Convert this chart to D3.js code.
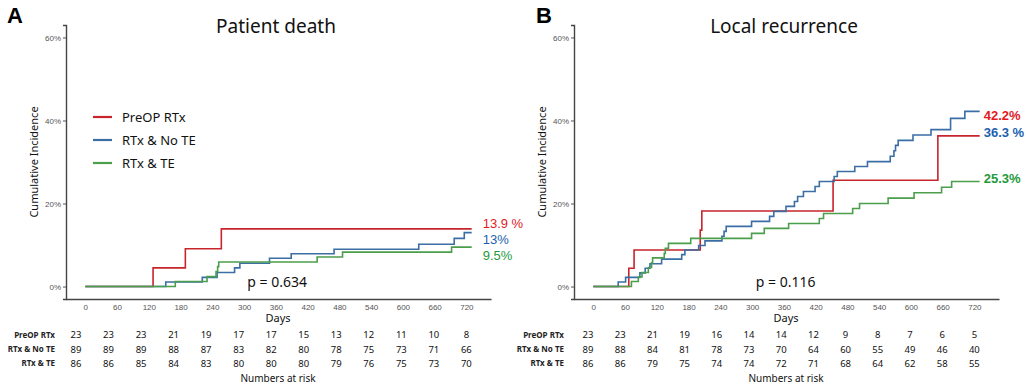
<!DOCTYPE html>
<html>
<head>
<meta charset="utf-8">
<script src="https://cdn.jsdelivr.net/npm/d3@7"></script>
<style>
  body { margin: 0; background: #fff; }
  svg { display: block; font-family: "Noto Sans", "DejaVu Sans", sans-serif; }
</style>
</head>
<body>
<div id="chart"></div>
<script>
// ---- data ----
const groups = ["PreOP RTx", "RTx & No TE", "RTx & TE"];
const dayTicks = [0, 60, 120, 180, 240, 300, 360, 420, 480, 540, 600, 660, 720];
const pctTicks = [0, 20, 40, 60];

// [day, cumulative incidence %]
const deathPreop = [[0, 0], [128, 4.5], [189, 9.1], [257, 13.9], [730, 13.9]];
const deathNoTE = [[0, 0], [152, 1.1], [221, 2.2], [249, 3.4], [282, 4.5], [292, 5.6], [348, 6.8],
  [389, 7.9], [470, 9.0], [630, 10.2], [697, 11.6], [716, 13.0], [730, 13.0]];
const deathTE = [[0, 0], [170, 1.2], [230, 2.4], [247, 3.6], [250, 4.8], [252, 5.9], [438, 7.1],
  [486, 8.3], [692, 9.5], [730, 9.5]];

const recurPreop = [[0, 0], [67, 4.4], [77, 8.8], [202, 13.6], [205, 18.2], [453, 25.6], [651, 36.3], [730, 36.3]];
const recurNoTE = [[0, 0], [47, 1.1], [61, 2.2], [88, 3.3], [98, 4.4], [107, 5.5], [129, 6.6], [167, 7.7],
  [173, 8.8], [199, 9.9], [211, 11.0], [243, 12.1], [247, 13.3], [251, 14.5], [299, 15.7], [333, 16.9],
  [341, 18.1], [364, 19.3], [380, 20.5], [386, 21.7], [397, 22.9], [419, 24.1], [427, 25.3], [455, 26.5],
  [461, 27.7], [494, 28.9], [518, 30.1], [561, 31.4], [568, 32.7], [571, 34.0], [576, 35.2], [604, 36.5],
  [638, 37.8], [675, 40.5], [702, 42.2], [730, 42.2]];
const recurTE = [[0, 0], [72, 1.2], [85, 2.3], [92, 3.4], [104, 4.6], [110, 5.7], [112, 6.9], [134, 8.0],
  [136, 9.2], [142, 10.4], [184, 11.6], [299, 12.8], [323, 14.0], [369, 15.2], [427, 16.4], [435, 17.6],
  [490, 18.8], [503, 20.0], [557, 21.3], [606, 22.6], [658, 23.9], [677, 25.3], [730, 25.3]];

const deathLabels = ["13.9 %", "13%", "9.5%"];
const deathLabelPct = [15.2, 11.4, 7.6];
const recurLabels = ["42.2%", "36.3 %", "25.3%"];
const recurLabelPct = [41.3, 37.2, 26.1];

const deathRisk = [
  [23, 23, 23, 21, 19, 17, 17, 15, 13, 12, 11, 10, 8],
  [89, 89, 89, 88, 87, 83, 82, 80, 78, 75, 73, 71, 66],
  [86, 86, 85, 84, 83, 80, 80, 80, 79, 76, 75, 73, 70]
];
const recurRisk = [
  [23, 23, 21, 19, 16, 14, 14, 12, 9, 8, 7, 6, 5],
  [89, 88, 84, 81, 78, 73, 70, 64, 60, 55, 49, 46, 40],
  [86, 86, 79, 75, 74, 74, 72, 71, 68, 64, 62, 58, 55]
];

const lineColors = ["#c8242b", "#3a6ea5", "#4b9e4b"];
const textColors = ["#e3191f", "#1c5fb0", "#1f9a3c"];

// ---- drawing ----
const W = 1026, H = 387;
const svg = d3.select("#chart").append("svg")
  .attr("width", W).attr("height", H);
svg.append("rect").attr("width", W).attr("height", H).attr("fill", "#fff");

function drawPanel(p) {
  const g = svg.append("g");
  const x = d3.scaleLinear().domain([-36.5, 766.5]).range([p.left, p.left + 425]);
  const y = d3.scaleLinear().domain([-3, 63]).range([299, 25]);

  // panel letter + title
  g.append("text").attr("x", p.letterX).attr("y", 23)
    .attr("font-family", "Liberation Sans, Arial, sans-serif")
    .attr("font-weight", "bold").attr("font-size", 22).text(p.letter);
  g.append("text").attr("x", p.left + 210).attr("y", 33)
    .attr("text-anchor", "middle").attr("font-size", 19).attr("fill", "#111").text(p.title);

  // axes
  const yAxis = g.append("g").attr("transform", `translate(${p.left},0)`)
    .call(d3.axisLeft(y).tickValues(pctTicks).tickFormat(d => d + "%").tickSize(3).tickPadding(2));
  const xAxis = g.append("g").attr("transform", "translate(0,299)")
    .call(d3.axisBottom(x).tickValues(dayTicks).tickSize(0).tickPadding(5));
  [yAxis, xAxis].forEach(a => {
    a.select(".domain").attr("stroke", "#444").attr("stroke-width", 1.4);
    a.selectAll(".tick line").attr("stroke", "#555");
    a.selectAll(".tick text").attr("fill", "#555").attr("font-size", 8);
  });

  g.append("text").attr("transform", `translate(${p.left - 28},162) rotate(-90)`)
    .attr("text-anchor", "middle").attr("font-size", 11).attr("fill", "#111")
    .text("Cumulative Incidence");
  g.append("text").attr("x", p.left + 212).attr("y", 322)
    .attr("text-anchor", "middle").attr("font-size", 11).attr("fill", "#111").text("Days");

  // step curves
  const line = d3.line().x(d => x(d[0])).y(d => y(d[1])).curve(d3.curveStepAfter);
  p.series.forEach((s, i) => {
    g.append("path").datum(s).attr("d", line)
      .attr("fill", "none").attr("stroke", lineColors[i]).attr("stroke-width", 1.6);
  });

  // end labels
  p.labels.forEach((t, i) => {
    g.append("text").attr("x", x(730) + p.labelGap).attr("y", y(p.labelPct[i]))
      .attr("dy", "0.35em").attr("font-size", 13).attr("font-weight", p.labelWeight)
      .attr("font-family", "Liberation Sans, Arial, sans-serif")
      .attr("fill", textColors[i]).text(t);
  });

  // p value
  g.append("text").attr("x", x(p.pAt)).attr("y", 287)
    .attr("font-size", 14).attr("fill", "#111").text(p.pText);

  // numbers at risk
  const tx = d3.scaleLinear().domain([0, 12]).range([p.tableLeft, x(720)]);
  const rowY = [335, 349.3, 363.3];
  groups.forEach((name, r) => {
    g.append("text").attr("x", p.tableLabelX).attr("y", rowY[r]).attr("dy", "0.35em")
      .attr("text-anchor", "end").attr("font-size", 8).attr("font-weight", "bold")
      .attr("fill", "#222").text(name);
    g.selectAll(null).data(p.risk[r]).enter().append("text")
      .attr("x", (d, i) => tx(i)).attr("y", rowY[r]).attr("dy", "0.35em")
      .attr("text-anchor", "middle").attr("font-size", 9.5).attr("fill", "#111")
      .text(d => d);
  });
  g.append("text").attr("x", p.left + 212).attr("y", 382)
    .attr("text-anchor", "middle").attr("font-size", 10).attr("fill", "#111").text("Numbers at risk");

  if (p.legend) {
    groups.forEach((name, i) => {
      const ly = 117 + i * 23;
      g.append("line").attr("x1", 93).attr("x2", 112).attr("y1", ly).attr("y2", ly)
        .attr("stroke", lineColors[i]).attr("stroke-width", 2.2);
      g.append("text").attr("x", 122).attr("y", ly).attr("dy", "0.35em")
        .attr("font-size", 13).attr("fill", "#111").text(name);
    });
  }
}

drawPanel({
  letter: "A", letterX: 7, title: "Patient death", left: 66,
  series: [deathPreop, deathNoTE, deathTE],
  labels: deathLabels, labelPct: deathLabelPct, labelGap: 11, labelWeight: "normal",
  pText: "p = 0.634", pAt: 306, risk: deathRisk, tableLeft: 76, tableLabelX: 55, legend: true
});
drawPanel({
  letter: "B", letterX: 536, title: "Local recurrence", left: 574,
  series: [recurPreop, recurNoTE, recurTE],
  labels: recurLabels, labelPct: recurLabelPct, labelGap: 4, labelWeight: "bold",
  pText: "p = 0.116", pAt: 307, risk: recurRisk, tableLeft: 588, tableLabelX: 564, legend: false
});
</script>
</body>
</html>
